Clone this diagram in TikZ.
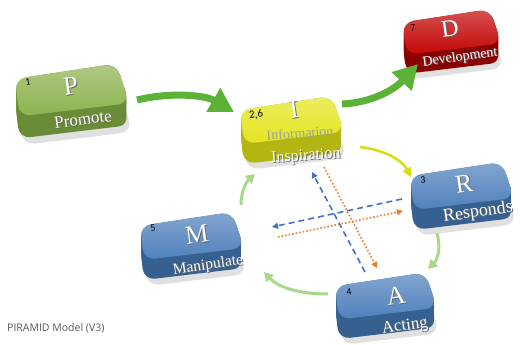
\documentclass[tikz,border=0pt]{standalone}
\usepackage{fontspec}
\setmainfont{Liberation Serif}
\newfontfamily\numfont{Carlito}
\newfontfamily\capfont{Open Sans}
\usetikzlibrary{arrows.meta}
\definecolor{gtop}{HTML}{8DB24F}
\definecolor{gside}{HTML}{6A8C36}
\definecolor{ytop}{HTML}{E3E51F}
\definecolor{yside}{HTML}{B3B512}
\definecolor{rtop}{HTML}{C40606}
\definecolor{rside}{HTML}{8A0000}
\definecolor{btop}{HTML}{4F80BC}
\definecolor{bside}{HTML}{36608F}
\definecolor{arrgreen}{HTML}{5CB236}
\definecolor{lgreen}{HTML}{A8D98A}
\definecolor{yarr}{HTML}{D9DC0A}
\definecolor{dblue}{HTML}{4472C4}
\definecolor{dorange}{HTML}{ED7D31}
\newcommand{\keyshape}[5]{%
  \begin{scope}[shift={(#1,#2)},scale=#3]
    \fill[black!12, rounded corners=12pt] (-47,-6+22) -- (45,-20+22) -- (57,16+22) -- (-43,28+22) -- cycle;
    \foreach \d in {0,2,...,20}{%
      \fill[#5, rounded corners=11pt] (-50,-10+\d) -- (42,-24+\d) -- (54,12+\d) -- (-46,24+\d) -- cycle;}
    \shade[top color=#4!70!white, bottom color=#4, rounded corners=11pt] (-50,-10) -- (42,-24) -- (54,12) -- (-46,24) -- cycle;
  \end{scope}}
\newcommand{\shtext}[1]{\rlap{\kern0.9pt\raisebox{-0.9pt}{\textcolor{black!60}{#1}}}#1}
\tikzset{
  lbl/.style={font=\fontsize{#1}{#1}\selectfont, inner sep=0pt, rotate=8},
  numlbl/.style={font=\numfont\fontsize{#1}{#1}\selectfont, inner sep=0pt, text=black, rotate=8},
  bigarrow/.style={line width=7pt, draw=arrgreen, -{Triangle[width=26pt,length=24pt]}},
  cyclearrow/.style={line width=3pt, draw=lgreen, -{Triangle[width=10pt,length=9pt]}},
  yelarrow/.style={line width=2.5pt, draw=yarr, -{Triangle[width=9pt,length=9pt]}},
  bluedash/.style={line width=1.6pt, draw=dblue, dash pattern=on 6pt off 4pt, -{Triangle[width=6pt,length=6pt]}},
  orangedot/.style={line width=1.6pt, draw=dorange, dash pattern=on 1.6pt off 2pt, -{Triangle[width=6pt,length=6pt]}},
}
\begin{document}
\begin{tikzpicture}[x=1pt,y=-1pt]
\useasboundingbox[fill=white] (0,0) rectangle (520,345);
% keys
\keyshape{70}{90}{1.1}{gtop}{gside}
\keyshape{290}{120}{1}{ytop}{yside}
\keyshape{450}{32}{0.95}{rtop}{rside}
\keyshape{460}{186}{1}{btop}{bside}
\keyshape{190}{236}{1}{btop}{bside}
\keyshape{384}{296}{0.98}{btop}{bside}
% P
\node[numlbl=10] (n1) at (28,82) {1};
\node[lbl=26, text=white] (Pl) at (71,87) {\shtext{P}};
\node[lbl=17, text=white] (Pt) at (83,120) {\shtext{Promote}};
% I
\node[numlbl=11] (n26) at (256,115) {2,6};
\node[lbl=26, text=white] (Il) at (294,110) {\shtext{I}};
\node[lbl=14, text=black!38, rotate=-4] (It1) at (300,133) {Information};
\node[lbl=16, text=white, rotate=-4] (It2) at (306,157) {\shtext{Inspiration}};
% D
\node[numlbl=10] (n7) at (413,28) {7};
\node[lbl=24, text=white] (Dl) at (450,29) {\shtext{D}};
\node[lbl=14, text=white] (Dt) at (460,58) {\shtext{Development}};
% R
\node[numlbl=10] (n3) at (423,180) {3};
\node[lbl=26, text=white] (Rl) at (464,184) {\shtext{R}};
\node[lbl=18, text=white] (Rt) at (478,213) {\shtext{Responds}};
% M
\node[numlbl=10] (n5) at (153,228) {5};
\node[lbl=26, text=white] (Ml) at (197,235) {\shtext{M}};
\node[lbl=15.5, text=white] (Mt) at (208,266) {\shtext{Manipulate}};
% A
\node[numlbl=10] (n4) at (349,292) {4};
\node[lbl=26, text=white] (Al) at (396,296) {\shtext{A}};
\node[lbl=17, text=white] (At) at (405,327) {\shtext{Acting}};
% main arrows
\coordinate (pi1) at (137,100);
\coordinate (pi2) at (234,112);
\draw[bigarrow] (pi1) .. controls (170,92) and (205,95) .. (pi2);
\coordinate (id1) at (342,104);
\coordinate (id2) at (418,64);
\draw[bigarrow] (id1) .. controls (368,103) and (392,92) .. (id2);
\coordinate (ir1) at (360,147);
\coordinate (ir2) at (411,177);
\draw[yelarrow] (ir1) .. controls (385,150) and (402,160) .. (ir2);
% cycle arrows
\coordinate (ra1) at (437,233);
\coordinate (ra2) at (428,269);
\draw[cyclearrow] (ra1) .. controls (441,248) and (438,259) .. (ra2);
\coordinate (am1) at (328,294);
\coordinate (am2) at (264,272);
\draw[cyclearrow] (am1) .. controls (300,294) and (279,288) .. (am2);
\coordinate (mi1) at (241,205);
\coordinate (mi2) at (255,174);
\draw[cyclearrow] (mi1) .. controls (241,192) and (246,182) .. (mi2);
% cross arrows
\coordinate (c1a) at (365,272); \coordinate (c1b) at (312,172);
\draw[bluedash] (c1a) -- (c1b);
\coordinate (c2a) at (324,167); \coordinate (c2b) at (377,268);
\draw[orangedot] (c2a) -- (c2b);
\coordinate (c3a) at (402,199); \coordinate (c3b) at (272,227);
\draw[bluedash] (c3a) -- (c3b);
\coordinate (c4a) at (278,237); \coordinate (c4b) at (403,211);
\draw[orangedot] (c4a) -- (c4b);
% caption
\node[anchor=west, inner sep=0pt, font=\capfont\fontsize{10.5}{10.5}\selectfont, text=black!65] (cap) at (7,328) {PIRAMID Model (V3)};
\end{tikzpicture}
\end{document}
